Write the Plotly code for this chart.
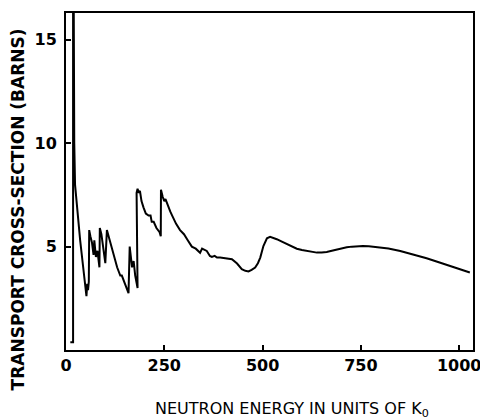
import plotly.graph_objects as go

energy = [11, 18, 18, 19.5, 21, 22, 23, 36, 48, 50, 52, 54, 56, 58, 59, 62, 66, 70, 72, 76, 80, 85,
          86, 90, 95, 100, 104, 110, 120, 130, 138, 142, 150, 159, 162, 166, 168, 172, 176, 182,
          179, 179.5, 182, 185, 188, 192, 197, 203, 210, 215, 218, 223, 230, 238, 241,
          241.5, 246, 250, 253, 258, 265, 270, 280, 290, 300, 310, 320, 330, 341, 346, 350,
          358, 366, 371, 378, 384, 392, 405, 413, 422, 435, 447, 456, 464, 472, 481, 488, 494,
          502, 511, 519, 528, 536, 549, 562, 575, 587, 600, 612, 625, 638, 650, 663, 676, 689,
          701, 714, 727, 740, 755, 770, 790, 820, 850, 880, 917, 950, 985, 1010, 1027]
sigma = [0.38, 0.38, 17.5, 17.5, 10.0, 8.6, 8.0, 5.3, 3.0, 2.7, 2.6, 3.2, 2.9, 3.3, 5.8, 5.5, 5.2, 4.6, 5.3, 4.5, 4.8, 4.0,
         5.9, 5.6, 5.0, 4.2, 5.8, 5.4, 4.7, 4.0, 3.6, 3.6, 3.2, 2.75, 5.0, 4.4, 4.0, 4.3, 3.6, 3.0,
         7.0, 7.6, 7.8, 7.6, 7.7, 7.2, 6.9, 6.6, 6.5, 6.5, 6.2, 6.2, 5.9, 5.7, 5.5,
         7.75, 7.4, 7.2, 7.3, 7.0, 6.7, 6.5, 6.1, 5.8, 5.6, 5.3, 5.0, 4.9, 4.7, 4.9, 4.87,
         4.79, 4.55, 4.5, 4.55, 4.47, 4.47, 4.44, 4.42, 4.39, 4.18, 3.91, 3.83, 3.8, 3.88, 3.99, 4.2, 4.47,
         5.03, 5.4, 5.47, 5.43, 5.36, 5.24, 5.12, 5.0, 4.9, 4.84, 4.79, 4.74, 4.71, 4.72, 4.74, 4.8, 4.86,
         4.92, 4.97, 5.0, 5.02, 5.03, 5.02, 4.99, 4.91, 4.79, 4.64, 4.44, 4.23, 4.02, 3.86, 3.75]

x_ticks = [0, 250, 500, 750, 1000]
y_ticks = [5, 10, 15]

fig = go.Figure()
fig.add_trace(go.Scatter(x=energy, y=sigma, mode="lines",
                         line=dict(color="black", width=2), showlegend=False))

tick_font = dict(family="DejaVu Sans", size=16, color="black")
fig.update_xaxes(range=[0, 1035], tickvals=x_ticks, ticktext=[f"<b>{v}</b>" for v in x_ticks],
                 ticks="inside", ticklen=5, tickwidth=1.5, tickcolor="black",
                 showline=True, linecolor="black", linewidth=2, mirror=True,
                 showgrid=False, zeroline=False, tickfont=tick_font)
fig.update_yaxes(range=[0, 16.3], tickvals=y_ticks, ticktext=[f"<b>{v}</b>" for v in y_ticks],
                 ticks="inside", ticklen=5, tickwidth=1.5, tickcolor="black",
                 showline=True, linecolor="black", linewidth=2, mirror=True,
                 showgrid=False, zeroline=False, tickfont=tick_font, ticklabelstandoff=4)

fig.add_annotation(text="<b>TRANSPORT CROSS-SECTION (BARNS)</b>", textangle=-90,
                   xref="paper", yref="paper", x=-0.119, y=0.416, showarrow=False,
                   xanchor="center", yanchor="middle",
                   font=dict(family="DejaVu Sans", size=17, color="black"))
fig.add_annotation(text="NEUTRON ENERGY IN UNITS OF K<sub>0</sub>",
                   xref="paper", yref="paper", x=0.555, y=-0.177, showarrow=False,
                   xanchor="center", yanchor="middle",
                   font=dict(family="DejaVu Sans", size=16, color="black"))

# page body has an 8px default margin, so the figure is sized/offset to compensate
fig.update_layout(width=480, height=412, margin=dict(l=58, r=15, t=3, b=70),
                  plot_bgcolor="white", paper_bgcolor="white")

fig.write_html("out.html")
